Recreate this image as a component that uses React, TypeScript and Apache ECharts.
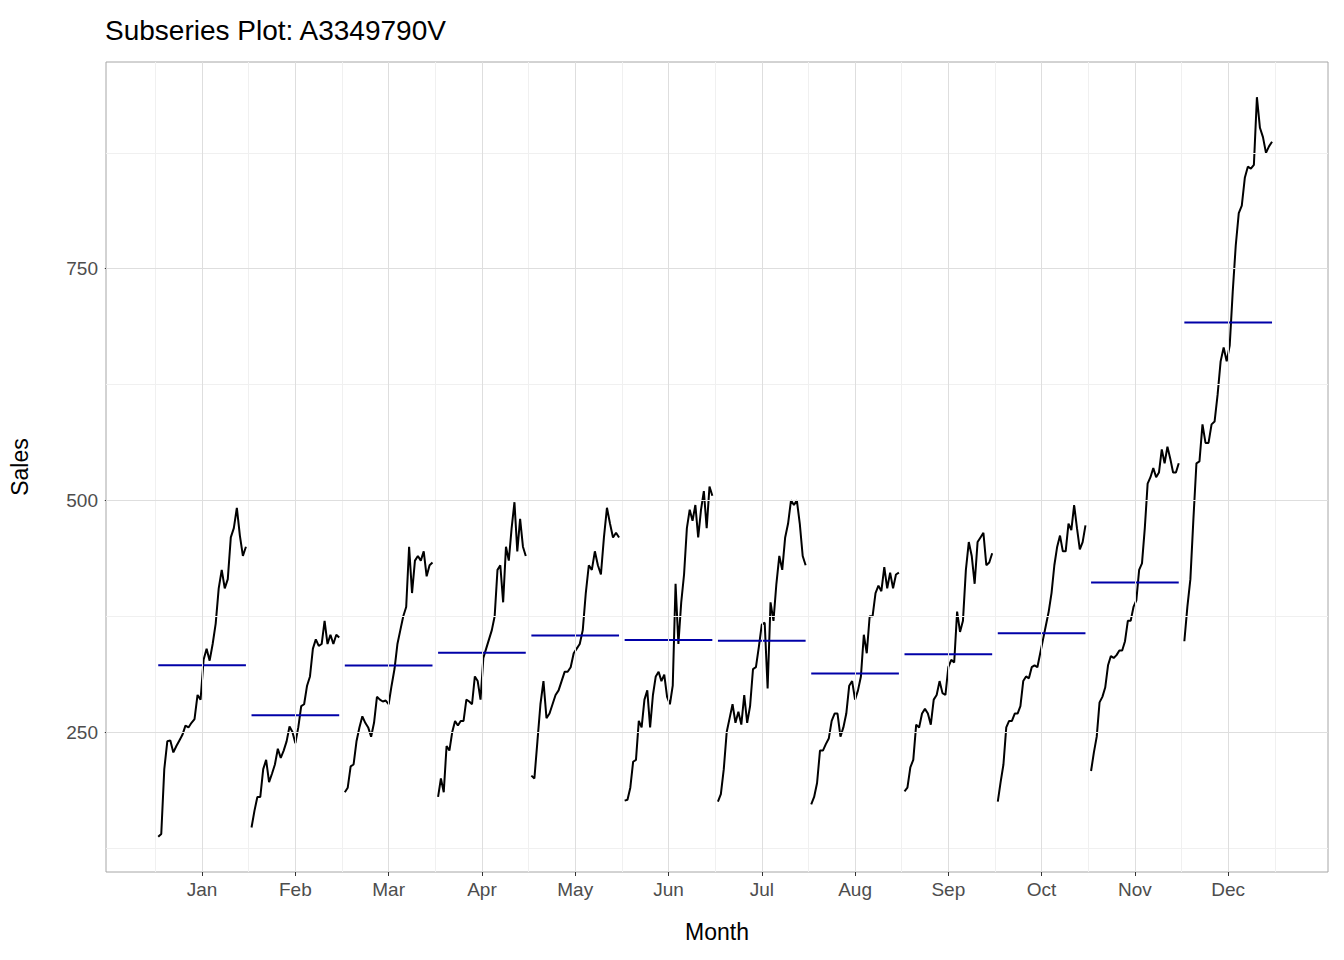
import React, { useEffect, useRef } from "react";
import * as echarts from "echarts";

const months = ["Jan", "Feb", "Mar", "Apr", "May", "Jun", "Jul", "Aug", "Sep", "Oct", "Nov", "Dec"];

const jan = [137, 140, 210, 240, 241, 228, 235, 241, 247, 257, 255, 260, 264, 290, 285, 328, 340, 327, 345, 367, 405, 425, 405, 415, 460, 470, 492, 462, 440, 450];
const feb = [147, 165, 180, 180, 210, 220, 196, 205, 215, 232, 222, 230, 240, 256, 250, 238, 255, 278, 280, 300, 310, 340, 350, 343, 345, 370, 345, 355, 345, 355, 352];
const mar = [185, 190, 213, 215, 240, 255, 267, 260, 255, 245, 260, 288, 285, 283, 284, 280, 300, 318, 345, 360, 375, 385, 450, 400, 435, 440, 435, 445, 418, 430, 433];
const apr = [180, 200, 185, 235, 230, 250, 262, 257, 262, 262, 285, 283, 280, 310, 305, 285, 330, 340, 350, 360, 375, 425, 430, 390, 450, 435, 470, 498, 445, 480, 450, 440];
const may = [203, 200, 240, 280, 305, 265, 270, 280, 290, 295, 305, 315, 315, 320, 335, 340, 345, 360, 400, 430, 425, 445, 430, 420, 460, 492, 475, 460, 465, 460];
const jun = [176, 177, 190, 218, 220, 262, 255, 285, 295, 255, 290, 310, 315, 305, 312, 288, 280, 300, 410, 345, 390, 420, 470, 490, 478, 495, 460, 490, 510, 470, 515, 505];
const jul = [175, 183, 210, 250, 265, 280, 260, 272, 258, 290, 260, 278, 318, 320, 342, 366, 368, 297, 390, 370, 410, 440, 425, 460, 475, 500, 495, 500, 475, 440, 430];
const aug = [172, 180, 195, 230, 230, 237, 243, 262, 270, 270, 245, 255, 270, 300, 305, 285, 295, 310, 355, 335, 375, 375, 400, 408, 402, 428, 405, 422, 405, 420, 422];
const sep = [186, 190, 212, 220, 258, 255, 270, 275, 270, 258, 285, 290, 305, 292, 290, 320, 328, 325, 380, 358, 370, 425, 455, 440, 410, 455, 460, 465, 430, 433, 443];
const oct = [175, 196, 215, 255, 262, 262, 270, 270, 278, 305, 310, 308, 320, 322, 320, 335, 350, 365, 380, 400, 430, 450, 462, 445, 445, 475, 468, 495, 470, 447, 455, 473];
const nov = [208, 228, 245, 282, 288, 298, 322, 332, 330, 333, 338, 338, 348, 370, 370, 385, 392, 425, 432, 470, 518, 525, 535, 525, 530, 555, 540, 558, 545, 530, 530, 540];
const dec = [348, 385, 415, 480, 540, 542, 582, 562, 562, 582, 585, 614, 650, 665, 650, 667, 725, 775, 810, 818, 848, 860, 858, 862, 935, 902, 892, 875, 882, 887];

const subseries = [jan, feb, mar, apr, may, jun, jul, aug, sep, oct, nov, dec];
const yMajor = [250, 500, 750];
const yMinor = [125, 375, 625, 875];

const App: React.FC = () => {
  const chartRef = useRef<HTMLDivElement>(null);

  useEffect(() => {
    document.body.style.margin = "0";
    if (!chartRef.current) return;
    const chart = echarts.init(chartRef.current, null, { renderer: "svg" });

    const lineSeries: any[] = [];
    const meanSeries: any[] = [];
    subseries.forEach((vals, i) => {
      const m = i + 1;
      const n = vals.length;
      lineSeries.push({
        type: "line",
        data: vals.map((v, j) => [m - 0.47 + (0.94 * j) / (n - 1), v]),
        showSymbol: false,
        lineStyle: { color: "#000", width: 2 },
        z: 3,
      });
      const mean = vals.reduce((a, b) => a + b, 0) / n;
      meanSeries.push({
        type: "line",
        data: [[m - 0.47, mean], [m + 0.47, mean]],
        showSymbol: false,
        lineStyle: { color: "#0000a8", width: 2 },
        z: 4,
      });
    });

    const gl = (color: string) => ({ color, width: 1, type: "solid" });
    const gridLines = {
      type: "line",
      data: [],
      silent: true,
      markLine: {
        symbol: "none",
        silent: true,
        label: { show: false },
        animation: false,
        data: [
          ...yMinor.map((v) => ({ yAxis: v, lineStyle: gl("#f0f0f0") })),
          ...months.map((_, i) => ({ xAxis: i + 1.5, lineStyle: gl("#f0f0f0") })),
          { xAxis: 0.5, lineStyle: gl("#f0f0f0") },
          ...yMajor.map((v) => ({ yAxis: v, lineStyle: gl("#dedede") })),
          ...months.map((_, i) => ({ xAxis: i + 1, lineStyle: gl("#dedede") })),
        ],
      },
      z: 1,
    };

    chart.setOption({
      animation: false,
      title: {
        text: "Subseries Plot: A3349790V",
        left: 100,
        top: 11,
        textStyle: { fontFamily: "Liberation Sans", fontSize: 28, fontWeight: "normal", color: "#000" },
      },
      grid: { left: 102, right: 16, top: 62, bottom: 88, show: true, borderColor: "#a6a6a6", borderWidth: 1 },
      xAxis: {
        type: "value",
        min: -0.03,
        max: 13.07,
        name: "Month",
        nameLocation: "middle",
        nameGap: 48,
        nameTextStyle: { fontFamily: "Liberation Sans", fontSize: 23, color: "#000" },
        axisLine: { show: false },
        splitLine: { show: false },
        axisTick: { show: true, length: 4, lineStyle: { color: "#333" }, customValues: months.map((_, i) => i + 1) },
        axisLabel: {
          customValues: months.map((_, i) => i + 1),
          formatter: (v: number) => months[Math.round(v) - 1] ?? "",
          fontFamily: "Liberation Sans",
          fontSize: 19,
          color: "#4d4d4d",
          margin: 8,
        },
      },
      yAxis: {
        type: "value",
        min: 99,
        max: 973,
        name: "Sales",
        nameLocation: "middle",
        nameGap: 75,
        nameTextStyle: { fontFamily: "Liberation Sans", fontSize: 23, color: "#000" },
        axisLine: { show: false },
        splitLine: { show: false },
        axisTick: { show: true, length: 4, lineStyle: { color: "#333" }, customValues: yMajor },
        axisLabel: {
          customValues: yMajor,
          fontFamily: "Liberation Sans",
          fontSize: 19,
          color: "#4d4d4d",
          margin: 8,
        },
      },
      series: [gridLines, ...lineSeries, ...meanSeries],
    });

    return () => chart.dispose();
  }, []);

  return <div ref={chartRef} style={{ width: 1344, height: 960 }} />;
};

export default App;
